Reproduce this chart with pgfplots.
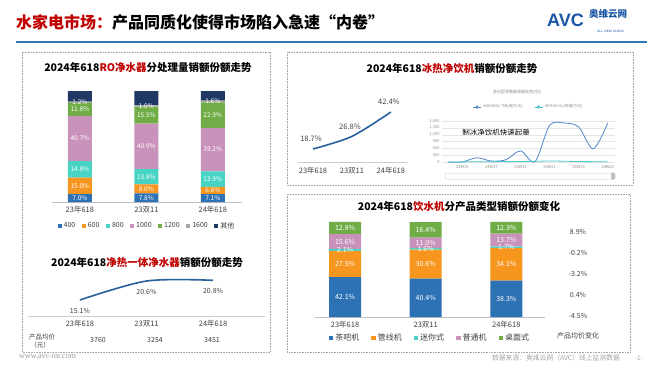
\documentclass[border=0pt]{standalone}
\usepackage{pgfplots}
\pgfplotsset{compat=1.18}
\usepackage{fontspec}
\setmainfont{Noto Sans CJK SC}
\newfontfamily\urlfont{Liberation Serif}
\newfontfamily\logofont{Liberation Sans}
\newcommand{\fs}[1]{\fontsize{#1}{#1}\selectfont}
\definecolor{titlered}{RGB}{192,0,0}
\definecolor{headblue}{RGB}{46,117,182}
\definecolor{logoblue}{RGB}{25,85,165}
\definecolor{cBlue}{RGB}{46,114,182}
\definecolor{cOrange}{RGB}{247,150,30}
\definecolor{cTeal}{RGB}{72,212,196}
\definecolor{cPink}{RGB}{200,146,186}
\definecolor{cGreen}{RGB}{112,173,71}
\definecolor{cGray}{RGB}{165,165,165}
\definecolor{cNavy}{RGB}{31,56,100}
\definecolor{lineBlue}{RGB}{40,96,155}
\definecolor{inBlue}{RGB}{84,132,200}
\definecolor{inCyan}{RGB}{70,200,205}
\definecolor{txt}{RGB}{64,64,64}
\begin{document}
\begin{tikzpicture}
\begin{scope}[x=1pt,y=-1pt]
\path[use as bounding box] (0,0) rectangle (660,372);
\fill[white] (0,0) rectangle (660,372);
% header
\node[anchor=west, font=\fs{16}\bfseries, inner sep=0] at (16,22) {\textcolor{titlered}{水家电市场：}产品同质化使得市场陷入急速“内卷”};
\draw[headblue, line width=1.5pt] (16,42) -- (647,42);
\node[anchor=west, font=\logofont\fs{18}\bfseries, text=logoblue, inner sep=0] at (547,20) {AVC};
\node[anchor=west, font=\fs{9.5}\bfseries, text=logoblue, inner sep=0] at (589,14) {奥维云网};
\node[anchor=west, font=\logofont\fs{3.2}, text=logoblue, inner sep=0] at (597,31.5) {ALL VIEW CLOUD};
% panels
\draw[black!35, densely dotted, line width=0.6pt] (22,52) rectangle (270,352);
\draw[black!35, densely dotted, line width=0.6pt] (287,52) rectangle (633,185);
\draw[black!35, densely dotted, line width=0.6pt] (287,194) rectangle (630,352);
% footer
\node[anchor=west, font=\urlfont\fs{8}, text=black!40, inner sep=0] at (19,357) {www.avc-mr.com};
\node[font=\fs{6.8}, text=black!35, inner sep=0] at (556,358) {数据来源：奥维云网（AVC）线上监测数据};
\node[font=\fs{6.5}, text=black!35, inner sep=0] at (639,358) {-1-};
% chart titles
\node[font=\fs{10.5}\bfseries, inner sep=0] at (148,68) {2024年618\textcolor{titlered}{RO净水器}分处理量销额份额走势};
\node[font=\fs{10.5}\bfseries, inner sep=0] at (147,263) {2024年618\textcolor{titlered}{净热一体净水器}销额份额走势};
\node[font=\fs{10.5}\bfseries, inner sep=0] at (452,69) {2024年618\textcolor{titlered}{冰热净饮机}销额份额走势};
\node[font=\fs{10.5}\bfseries, inner sep=0] at (459,207) {2024年618\textcolor{titlered}{饮水机}分产品类型销额份额变化};
% left bottom price row
\node[font=\fs{6.5}, text=txt, inner sep=0] at (42,337) {产品均价};
\node[font=\fs{6.5}, text=txt, inner sep=0] at (40,345) {（元）};
\node[font=\fs{7}, text=txt, inner sep=0] at (98,340) {3760};
\node[font=\fs{7}, text=txt, inner sep=0] at (155,340) {3254};
\node[font=\fs{7}, text=txt, inner sep=0] at (212,340) {3451};
% inset decorations
\node[font=\fs{4}, text=black!45, inner sep=0] at (517,92) {各机型零售额规模走势对比};
\node[font=\fs{7.5}, inner sep=0] at (496,133) {制冰净饮机快速起量};
\draw[black!18, line width=0.5pt, rounded corners=1.5pt] (445,173) rectangle (615,179);
\fill[black!25, rounded corners=1pt] (611,172.5) rectangle (615,179.5);
% right column of chart E
\node[font=\fs{7}, text=txt, inner sep=0] at (578,232) {8.9\%};
\node[font=\fs{7}, text=txt, inner sep=0] at (578,253) {-0.2\%};
\node[font=\fs{7}, text=txt, inner sep=0] at (578,274) {-3.2\%};
\node[font=\fs{7}, text=txt, inner sep=0] at (578,295) {0.4\%};
\node[font=\fs{7}, text=txt, inner sep=0] at (578,316) {-4.5\%};
\node[font=\fs{7}, text=txt, inner sep=0] at (578,336) {产品均价变化};
\end{scope}

% ===== Chart A: RO stacked bars
\begin{axis}[at={(52pt,-202pt)}, anchor=south west, scale only axis,
  width=190pt, height=111pt, xmin=-0.42, xmax=2.44, ymin=0, ymax=100,
  ybar stacked, bar width=24pt,
  axis x line=bottom, axis y line=none, x axis line style={-, draw=black!25},
  xtick={0,1,2}, xticklabels={23年618,23双11,24年618}, ytick=\empty,
  major tick length=0pt,
  xticklabel style={font=\fs{7.5}, text=txt, yshift=-1pt},
  legend style={at={(0.5,-0.215)}, anchor=center, draw=none, fill=none,
    font=\fs{7}, text=txt, legend columns=7,
    /tikz/every even column/.append style={column sep=4.5pt}},
  legend image code/.code={\fill[#1] (0pt,-2pt) rectangle (4pt,2pt);},
  clip=false]
\addplot[fill=cBlue, draw=none] coordinates {(0,7.0) (1,7.8) (2,7.1)};
\addplot[fill=cOrange, draw=none] coordinates {(0,15.0) (1,8.0) (2,6.6)};
\addplot[fill=cTeal, draw=none] coordinates {(0,14.8) (1,13.8) (2,13.9)};
\addplot[fill=cPink, draw=none] coordinates {(0,40.7) (1,40.9) (2,39.2)};
\addplot[fill=cGreen, draw=none] coordinates {(0,11.8) (1,15.5) (2,22.9)};
\addplot[fill=cGray, draw=none] coordinates {(0,1.2) (1,1.0) (2,1.6)};
\addplot[fill=cNavy, draw=none] coordinates {(0,9.5) (1,13.0) (2,8.7)};
\legend{400,600,800,1000,1200,1600,其他}
\end{axis}
\begin{axis}[at={(52pt,-202pt)}, anchor=south west, scale only axis,
  width=190pt, height=111pt, xmin=-0.42, xmax=2.44, ymin=0, ymax=100,
  hide axis, clip=false]
\addplot[draw=none, nodes near coords, point meta=explicit symbolic,
  every node near coord/.style={anchor=center, font=\fs{6.5}, text=white, inner sep=0}]
 coordinates {
 (0,3.5)[7.0\%] (0,14.5)[15.0\%] (0,29.4)[14.8\%] (0,57.15)[40.7\%] (0,83.4)[11.8\%] (0,89.9)[1.2\%]
 (1,3.9)[7.8\%] (1,11.8)[8.0\%] (1,22.7)[13.8\%] (1,50.05)[40.9\%] (1,78.25)[15.5\%] (1,86.5)[1.0\%]
 (2,3.55)[7.1\%] (2,10.4)[6.6\%] (2,20.65)[13.9\%] (2,47.2)[39.2\%] (2,78.25)[22.9\%] (2,90.5)[1.6\%]
 };
\end{axis}

% ===== Chart B: 净热一体 line
\begin{axis}[at={(28pt,-316pt)}, anchor=south west, scale only axis,
  width=237pt, height=40pt, xmin=-0.78, xmax=2.78, ymin=10.46, ymax=22.05,
  axis x line=bottom, axis y line=none, x axis line style={-, draw=black!20},
  xtick={0,1,2}, xticklabels={23年618,23双11,24年618}, ytick=\empty,
  major tick length=0pt,
  xticklabel style={font=\fs{7.5}, text=txt, yshift=-1pt},
  clip=false]
\addplot[lineBlue, line width=1.6pt, smooth, nodes near coords, point meta=explicit symbolic,
  every node near coord/.style={anchor=north, font=\fs{7}, text=txt, yshift=-4pt}]
 coordinates {(0,15.1)[15.1\%] (1,20.6)[20.6\%] (2,20.8)[20.8\%]};
\end{axis}

% ===== Chart C: 冰热净饮机 line
\begin{axis}[at={(298pt,-162pt)}, anchor=south west, scale only axis,
  width=110pt, height=62pt, xmin=-0.385, xmax=2.44, ymin=10.36, ymax=50.1,
  axis x line=bottom, axis y line=none, x axis line style={-, draw=black!20},
  xtick={0,1,2}, xticklabels={23年618,23双11,24年618}, ytick=\empty,
  major tick length=0pt,
  xticklabel style={font=\fs{7.5}, text=txt, yshift=-2pt},
  clip=false]
\addplot[lineBlue, line width=1.6pt, smooth, nodes near coords, point meta=explicit symbolic,
  every node near coord/.style={anchor=south, font=\fs{7.5}, text=txt, yshift=3pt, xshift=-2pt}]
 coordinates {(0,18.7)[18.7\%] (1,26.8)[26.8\%] (2,42.4)[42.4\%]};
\end{axis}

% ===== Chart D: inset weekly lines
\begin{axis}[at={(442pt,-162pt)}, anchor=south west, scale only axis,
  width=173pt, height=41pt, xmin=13.6, xmax=25.5, ymin=0, ymax=1800,
  axis line style={draw=none}, major tick length=0pt,
  ytick={0,300,...,1800}, ymajorgrids, grid style={draw=black!10, line width=0.3pt},
  xtick={15,17,...,25}, xticklabels={24W15,24W17,24W19,24W21,24W23,24W25},
  tick label style={font=\fs{4}, text=black!45},
  yticklabel style={xshift=1pt},
  /pgf/number format/1000 sep={,}, /pgf/number format/assume math mode=true,
  legend style={at={(0.5,1.34)}, anchor=center, draw=none, fill=none,
    font=\fs{3.8}, text=black!45, legend columns=2,
    /tikz/every even column/.append style={column sep=10pt}},
  legend image code/.code={\draw[#1, line width=0.6pt] (0pt,0pt) -- (8pt,0pt); \fill[#1] (4pt,0pt) circle (1.2pt);},
  clip=false]
\addplot[inBlue, line width=0.8pt, smooth, tension=0.5] coordinates {
 (14,0) (15,5) (16,187) (17,40) (18,100) (19,490) (20,15) (21,1610) (22,1710) (23,1540) (24,575) (25,1710)};
\addplot[inCyan, line width=0.8pt, smooth] coordinates {
 (14,0) (15,5) (16,10) (17,15) (18,20) (19,25) (20,30) (21,45) (22,35) (23,20) (24,15) (25,10)};
\legend{ADD6806/飞利浦(万元), WP440-G1/四维(万元)}
\end{axis}

% ===== Chart E: 饮水机 stacked bars
\begin{axis}[at={(315pt,-317pt)}, anchor=south west, scale only axis,
  width=230pt, height=95pt, xmin=-0.373, xmax=2.48, ymin=0, ymax=100,
  ybar stacked, bar width=32pt,
  axis x line=bottom, axis y line=none, x axis line style={-, draw=black!25},
  xtick={0,1,2}, xticklabels={23年618,23双11,24年618}, ytick=\empty,
  major tick length=0pt,
  xticklabel style={font=\fs{7.5}, text=txt, yshift=-1pt},
  legend style={at={(0.5,-0.221)}, anchor=center, draw=none, fill=none,
    font=\fs{8}, text=txt, legend columns=5,
    /tikz/every even column/.append style={column sep=10pt}},
  legend image code/.code={\fill[#1] (0pt,-2.2pt) rectangle (4.4pt,2.2pt);},
  clip=false]
\addplot[fill=cBlue, draw=none] coordinates {(0,42.1) (1,40.4) (2,38.3)};
\addplot[fill=cOrange, draw=none] coordinates {(0,27.5) (1,30.6) (2,34.1)};
\addplot[fill=cTeal, draw=none] coordinates {(0,2.1) (1,1.6) (2,1.7)};
\addplot[fill=cPink, draw=none] coordinates {(0,15.6) (1,11.0) (2,13.7)};
\addplot[fill=cGreen, draw=none] coordinates {(0,12.8) (1,16.4) (2,12.3)};
\legend{茶吧机,管线机,迷你式,普通机,桌面式}
\end{axis}
\begin{axis}[at={(315pt,-317pt)}, anchor=south west, scale only axis,
  width=230pt, height=95pt, xmin=-0.373, xmax=2.48, ymin=0, ymax=100,
  hide axis, clip=false]
\addplot[draw=none, nodes near coords, point meta=explicit symbolic,
  every node near coord/.style={anchor=center, font=\fs{7}, text=white, inner sep=0}]
 coordinates {
 (0,21.05)[42.1\%] (0,55.85)[27.5\%] (0,70.65)[2.1\%] (0,79.5)[15.6\%] (0,93.7)[12.8\%]
 (1,20.2)[40.4\%] (1,55.7)[30.6\%] (1,71.8)[1.6\%] (1,78.1)[11.0\%] (1,91.8)[16.4\%]
 (2,19.15)[38.3\%] (2,55.35)[34.1\%] (2,73.25)[1.7\%] (2,80.95)[13.7\%] (2,93.95)[12.3\%]
 };
\end{axis}
\end{tikzpicture}
\end{document}
